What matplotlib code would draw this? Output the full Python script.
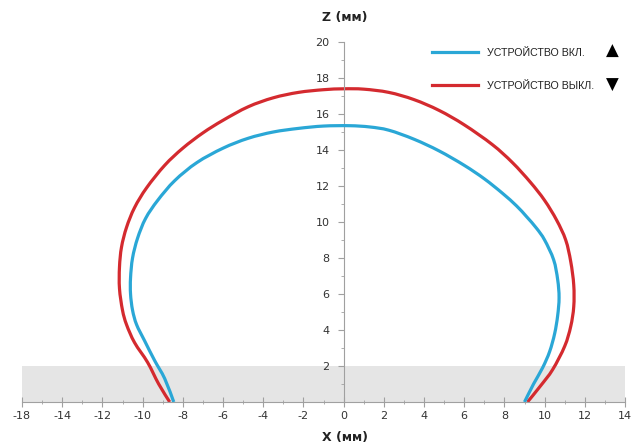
import matplotlib
matplotlib.use("Agg")
import matplotlib.pyplot as plt
from matplotlib.ticker import MultipleLocator, FixedLocator
from matplotlib.lines import Line2D
from matplotlib.path import Path
from matplotlib.patches import PathPatch
from matplotlib import font_manager

# ---- data ----
on_x = [-8.45, -8.9, -9.4, -9.9, -10.3, -10.5, -10.6, -10.6, -10.5, -10.25, -9.85, -9.25, -8.4,
        -7.3, -6.0, -4.75, -3.5, -2.25, -1.0, 0.3, 1.3, 2.25, 3.5, 4.75, 6.0, 7.0, 7.9, 8.6,
        9.1, 9.6, 10.0, 10.45, 10.65, 10.72, 10.65, 10.5, 10.25, 9.9, 9.45, 9.0]
on_z = [0.0, 1.3, 2.3, 3.4, 4.3, 5.1, 6.0, 6.9, 8.0, 9.1, 10.2, 11.2, 12.3,
        13.3, 14.1, 14.65, 15.0, 15.2, 15.33, 15.35, 15.28, 15.1, 14.6, 13.95, 13.15, 12.4, 11.6, 10.9,
        10.3, 9.65, 9.0, 7.9, 6.8, 5.8, 4.8, 3.8, 2.8, 1.9, 1.0, 0.0]

off_x = [-8.65, -9.2, -9.75, -10.4, -10.8, -11.0, -11.15, -11.15, -11.05, -10.8, -10.4, -9.8,
         -8.9, -8.0, -7.0, -6.0, -4.75, -3.5, -2.25, -1.0, 0.0, 1.0, 2.25, 3.5, 4.75, 6.0, 7.4,
         8.4, 9.3, 10.0, 10.6, 11.05, 11.3, 11.45, 11.45, 11.3, 11.0, 10.4, 9.8, 9.15]
off_z = [0.0, 1.0, 2.2, 3.3, 4.3, 5.1, 6.3, 7.5, 8.6, 9.7, 10.8, 11.9,
         13.15, 14.1, 14.95, 15.65, 16.4, 16.9, 17.2, 17.35, 17.4, 17.38, 17.2, 16.8, 16.2, 15.4, 14.3,
         13.3, 12.2, 11.2, 10.1, 9.0, 7.8, 6.5, 5.3, 4.2, 3.1, 1.8, 0.9, 0.0]

labels = ["УСТРОЙСТВО ВКЛ.", "УСТРОЙСТВО ВЫКЛ."]
x_ticks = [-16, -14, -12, -10, -8, -6, -4, -2, 0, 2, 4, 6, 8, 10, 12, 14]
x_tick_labels = ["-18", "-14", "-12", "-10", "-8", "-6", "-4", "-2", "0", "2", "4", "6", "8", "10", "12", "14"]
z_ticks = [2, 4, 6, 8, 10, 12, 14, 16, 18, 20]
band_z = [0, 2]

BLUE = "#2aa7d6"
RED = "#d42a2f"
AXC = "#a0a0a0"

names = {f.name for f in font_manager.fontManager.ttflist}
narrow = "Liberation Sans Narrow" if "Liberation Sans Narrow" in names else "Liberation Sans"


def smooth_path(xs, zs):
    """Smooth rendering (Catmull-Rom as cubic Bezier) through the read points."""
    pts = list(zip(xs, zs))
    n = len(pts)
    verts = [pts[0]]
    codes = [Path.MOVETO]
    for i in range(n - 1):
        p0 = pts[i - 1] if i > 0 else pts[i]
        p1 = pts[i]
        p2 = pts[i + 1]
        p3 = pts[i + 2] if i + 2 < n else pts[i + 1]
        c1 = (p1[0] + (p2[0] - p0[0]) / 6, p1[1] + (p2[1] - p0[1]) / 6)
        c2 = (p2[0] - (p3[0] - p1[0]) / 6, p2[1] - (p3[1] - p1[1]) / 6)
        verts += [c1, c2, p2]
        codes += [Path.CURVE4] * 3
    return Path(verts, codes)


fig = plt.figure(figsize=(6.35, 4.47), dpi=100)
ax = fig.add_axes([22/635, (447-402)/447, (625-22)/635, 360/447])
ax.set_xlim(-16, 14)
ax.set_ylim(0, 20)

ax.axhspan(band_z[0], band_z[1], xmin=0, xmax=1, color="#e5e5e5", zorder=0, lw=0)

ax.add_patch(PathPatch(smooth_path(off_x, off_z), fill=False, edgecolor=RED, lw=2.3,
                       capstyle="butt", zorder=2))
ax.add_patch(PathPatch(smooth_path(on_x, on_z), fill=False, edgecolor=BLUE, lw=2.3,
                       capstyle="butt", zorder=3))

for s in ["top", "right"]:
    ax.spines[s].set_visible(False)
ax.spines["left"].set_position(("data", 0))
ax.spines["bottom"].set_position(("data", 0))
ax.spines["left"].set_color(AXC)
ax.spines["bottom"].set_color(AXC)
ax.spines["left"].set_linewidth(0.8)
ax.spines["bottom"].set_linewidth(0.8)

ax.xaxis.set_major_locator(FixedLocator(x_ticks))
ax.set_xticklabels(x_tick_labels)
ax.xaxis.set_minor_locator(MultipleLocator(1))
ax.yaxis.set_major_locator(FixedLocator(z_ticks))
ax.set_yticklabels([str(v) for v in z_ticks])
ax.yaxis.set_minor_locator(MultipleLocator(1))

ax.tick_params(axis="x", which="major", direction="inout", length=7, width=0.8, color=AXC,
               labelsize=8, labelcolor="#333333", pad=3)
ax.tick_params(axis="x", which="minor", direction="inout", length=3, width=0.6, color=AXC)
ax.tick_params(axis="y", which="major", direction="out", length=4, width=0.8, color=AXC,
               labelsize=8, labelcolor="#333333", pad=6)
ax.tick_params(axis="y", which="minor", direction="out", length=2, width=0.6, color=AXC)

fig.text(345/635, 1 - 18/447, "Z (мм)", ha="center", va="center", fontsize=9, fontweight="bold", color="#222222")
fig.text(345/635, 1 - 437/447, "X (мм)", ha="center", va="center", fontsize=9, fontweight="bold", color="#222222")

# legend
handles = [Line2D([], [], color=BLUE, lw=2.3), Line2D([], [], color=RED, lw=2.3)]
leg = fig.legend(handles, labels, loc="upper left", bbox_to_anchor=(422/635, 1 - 38/447),
                 frameon=False, handlelength=4.3, handletextpad=0.9, labelspacing=2.15,
                 prop={"family": narrow, "size": 7.7})
for t in leg.get_texts():
    t.set_color("#222222")
fig.text(612/635, 1 - 51/447, "▲", ha="center", va="center", fontsize=12, color="black")
fig.text(612/635, 1 - 85/447, "▼", ha="center", va="center", fontsize=12, color="black")

fig.savefig("out.png", dpi=100)
